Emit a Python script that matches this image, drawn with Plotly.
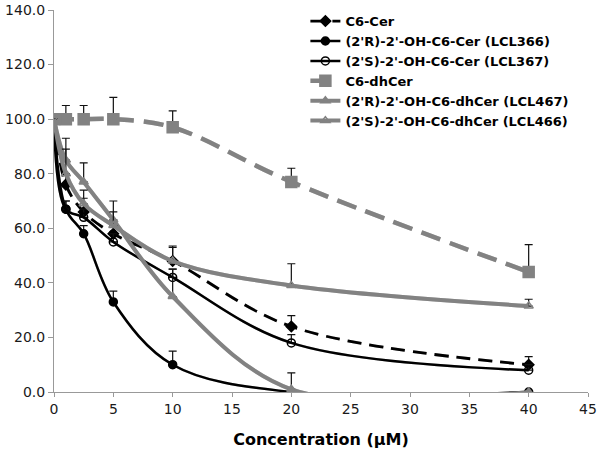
import plotly.graph_objects as go

conc = [0, 1, 2.5, 5, 10, 20, 40]

c6_cer = [100, 76, 66, 58, 48, 24, 10]
c6_cer_err = [0, 4, 5, 5, 5, 4, 3]

lcl366 = [100, 67, 58, 33, 10, 0, 0]
lcl366_err = [0, 3, 3, 4, 5, 0, 0]

lcl367 = [100, 67, 64, 55, 42, 18, 8]
lcl367_err = [0, 3, 3, 3, 3, 3, 2]

c6_dhcer = [100, 100, 100, 100, 97, 77, 44]
c6_dhcer_err = [0, 5, 5, 8, 6, 5, 10]

lcl467 = [100, 85, 77, 63, 35, 1, 0]
lcl467_err = [0, 8, 7, 7, 10, 6, 0]

lcl466 = [100, 80, 69, 61, 48, 39, 31.5]
lcl466_err = [0, 9, 5, 5, 5.5, 8, 2.5]

x_ticks = [0, 5, 10, 15, 20, 25, 30, 35, 40, 45]
y_ticks = [0, 20, 40, 60, 80, 100, 120, 140]

GRAY = "#828282"
BLACK = "#000000"

series = [
    ("C6-Cer", c6_cer, c6_cer_err, BLACK, 2.8, "14px,8px", "diamond", 8, BLACK),
    ("(2'R)-2'-OH-C6-Cer (LCL366)", lcl366, lcl366_err, BLACK, 2.5, "solid", "circle", 8, BLACK),
    ("(2'S)-2'-OH-C6-Cer (LCL367)", lcl367, lcl367_err, BLACK, 2.5, "solid", "circle-open", 8, BLACK),
    ("C6-dhCer", c6_dhcer, c6_dhcer_err, GRAY, 4.5, "20px,10px", "square", 11, GRAY),
    ("(2'R)-2'-OH-C6-dhCer (LCL467)", lcl467, lcl467_err, GRAY, 4, "solid", "triangle-up", 8, GRAY),
    ("(2'S)-2'-OH-C6-dhCer (LCL466)", lcl466, lcl466_err, GRAY, 4, "solid", "triangle-up-open", 8, GRAY),
]

fig = go.Figure()

# anchor trace so the base (visible) axis pair exists
fig.add_trace(go.Scatter(x=[None], y=[None], mode="markers", showlegend=False, hoverinfo="skip"))

# soft shadow copies (drawn on an offset, hidden axis pair)
for name, ys, err, color, w, dash, sym, ms, mc in series:
    fig.add_trace(go.Scatter(
        x=conc, y=ys, mode="lines", xaxis="x2", yaxis="y2",
        line=dict(color="rgba(160,160,160,0.6)", width=w, dash=dash, shape="spline", smoothing=1),
        showlegend=False, hoverinfo="skip",
    ))

for name, ys, err, color, w, dash, sym, ms, mc in series:
    fig.add_trace(go.Scatter(
        x=conc, y=ys, name="<b>" + name + "</b>", mode="lines+markers", xaxis="x3", yaxis="y3",
        line=dict(color=color, width=w, dash=dash, shape="spline", smoothing=1),
        marker=dict(symbol=sym, size=ms, color=mc, line=dict(color=mc, width=1.5)),
        error_y=dict(type="data", symmetric=False, array=err, arrayminus=[0] * len(err),
                     color="#111111", thickness=1.2, width=4),
    ))

font_family = "DejaVu Sans, Verdana, sans-serif"
W, H = 600, 453
ml, mr, mt, mb = 53.5, 10, 10, 59
pw = W - ml - mr
ph = H - mt - mb
dx = 2.0 / pw
dy = 2.0 / ph

fig.update_layout(
    width=W, height=H,
    margin=dict(l=ml, r=mr, t=mt, b=mb, autoexpand=False),
    plot_bgcolor="white", paper_bgcolor="white",
    font=dict(family=font_family, size=14, color="#1a1a1a"),
    xaxis=dict(
        range=[0, 45], tickvals=x_ticks, ticks="outside", ticklen=4, tickcolor="#999999",
        showline=True, linecolor="#999999", linewidth=1, showgrid=False, zeroline=False,
        title=dict(text="<b>Concentration (µM)</b>", font=dict(size=16, color="#000000"), standoff=18),
        domain=[0, 1 - dx], automargin=False,
    ),
    yaxis=dict(
        range=[0, 140], tickvals=y_ticks, tickformat=".1f", ticks="outside", ticklen=5, tickcolor="#999999",
        showline=True, linecolor="#999999", linewidth=1, showgrid=False, zeroline=False,
        domain=[dy, 1], automargin=False,
    ),
    xaxis2=dict(range=[0, 45], domain=[dx, 1], overlaying="x", visible=False, anchor="y2"),
    yaxis2=dict(range=[0, 140], domain=[0, 1 - dy], overlaying="y", visible=False, anchor="x2"),
    xaxis3=dict(range=[0, 45], domain=[0, 1 - dx], overlaying="x", visible=False, anchor="y3"),
    yaxis3=dict(range=[0, 140], domain=[dy, 1], overlaying="y", visible=False, anchor="x3"),
    legend=dict(
        x=0.469, y=1.01, xanchor="left", yanchor="top",
        bgcolor="rgba(0,0,0,0)", font=dict(size=13, color="#000000", family=font_family),
        tracegroupgap=0, itemwidth=30,
    ),
    showlegend=True,
)

fig.write_html("out.html", config={"displayModeBar": False},
               post_script="document.body.style.margin='0';")
